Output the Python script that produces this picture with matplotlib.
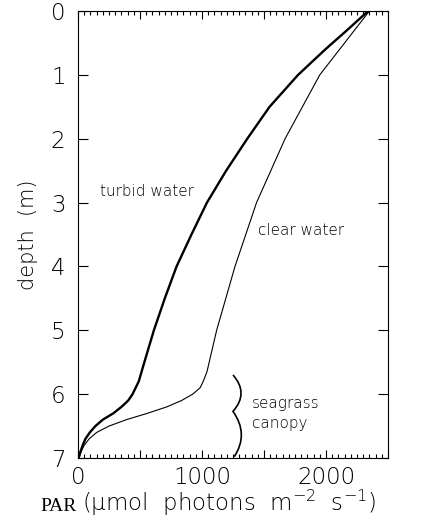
import numpy as np
import matplotlib
matplotlib.use("Agg")
import matplotlib.pyplot as plt
from matplotlib.path import Path
from matplotlib.patches import PathPatch
from matplotlib.ticker import MultipleLocator, FuncFormatter

plt.rcParams["mathtext.fontset"] = "custom"
plt.rcParams["mathtext.rm"] = "DejaVu Sans:light"
plt.rcParams["mathtext.it"] = "DejaVu Sans:italic:light"

# PAR profiles (umol photons m-2 s-1) vs depth (m)
turbid_depth = [0.0, 0.3, 0.6, 1.0, 1.5, 2.0, 2.5, 3.0, 3.5, 4.0, 4.5, 5.0, 5.5,
                5.8, 6.0, 6.1, 6.2, 6.3, 6.4, 6.5, 6.6, 6.7, 6.8, 6.9, 7.0]
turbid_par = [2340, 2170, 1995, 1775, 1545, 1365, 1195, 1040, 915, 795, 700, 612, 535,
              490, 440, 405, 350, 285, 200, 140, 95, 60, 38, 20, 5]

clear_depth = [0.0, 1.0, 2.0, 3.0, 4.0, 5.0, 5.65, 5.8, 5.9, 6.0, 6.1, 6.2, 6.3,
               6.4, 6.5, 6.6, 6.7, 6.8, 6.9, 7.0]
clear_par = [2350, 1950, 1670, 1440, 1266, 1118, 1040, 1010, 985, 925, 835, 715, 560,
             390, 250, 150, 90, 50, 25, 8]

# canopy brace (data coords)
brace_x = 1250
brace_bulge = 65
brace_top, brace_mid, brace_bot = 5.70, 6.27, 6.98

fig = plt.figure(figsize=(4.29, 5.25), dpi=100)
ax = fig.add_axes([78 / 429, 1 - 458 / 525, 310 / 429, 447 / 525])

ax.plot(turbid_par, turbid_depth, color="black", lw=1.7)
ax.plot(clear_par, clear_depth, color="black", lw=0.8)

# curly brace: two quadratic curves with a cusp in the middle
verts = [(brace_x, brace_top),
         (brace_x + 2 * brace_bulge, (brace_top + brace_mid) / 2),
         (brace_x, brace_mid),
         (brace_x + 2 * brace_bulge, (brace_mid + brace_bot) / 2),
         (brace_x + 10, brace_bot)]
codes = [Path.MOVETO, Path.CURVE3, Path.CURVE3, Path.CURVE3, Path.CURVE3]
ax.add_patch(PathPatch(Path(verts, codes), fc="none", ec="black", lw=1.2))

lbl = dict(fontsize=11, va="center", ha="left", fontweight="light", color="black")
ax.text(177, 2.83, "turbid water", **lbl)
ax.text(1454, 3.43, "clear water", **lbl)
ax.text(1400, 6.14, "seagrass", **lbl)
ax.text(1400, 6.46, "canopy", **lbl)

ax.set_xlim(0, 2500)
ax.set_ylim(7, 0)
ax.xaxis.set_major_locator(MultipleLocator(500))
ax.xaxis.set_minor_locator(MultipleLocator(50))
ax.xaxis.set_major_formatter(FuncFormatter(lambda v, p: f"{v:.0f}" if v % 1000 == 0 else ""))
ax.yaxis.set_major_locator(MultipleLocator(1))
ax.tick_params(axis="both", which="both", direction="in", top=True, right=True, labelsize=16.5)
ax.tick_params(axis="x", which="major", length=6, width=0.8, pad=6)
ax.tick_params(axis="x", which="minor", length=3, width=0.8)
ax.tick_params(axis="y", which="major", length=7, width=0.8, pad=9)
for t in ax.get_xticklabels() + ax.get_yticklabels():
    t.set_fontweight("light")
for s in ax.spines.values():
    s.set_linewidth(0.8)

ax.set_ylabel("depth  (m)", fontsize=15, labelpad=9, fontweight="light")
fig.text(40 / 429, 1 - 511 / 525, "PAR", fontsize=14, family="Liberation Serif",
         va="baseline", ha="left")
fig.text(82 / 429, 1 - 511 / 525, r"(μmol  photons  m$^{-2}$  s$^{-1}$)", fontsize=16.5,
         va="baseline", ha="left", fontweight="light")

fig.savefig("out.png", dpi=100)
